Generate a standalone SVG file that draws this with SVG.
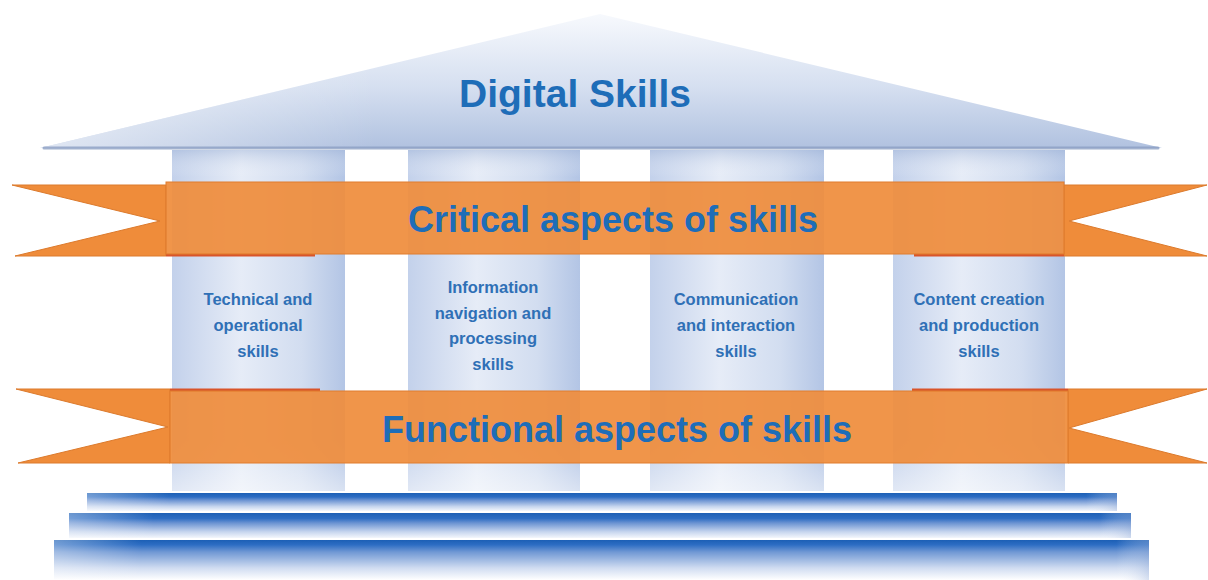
<svg xmlns="http://www.w3.org/2000/svg" width="1208" height="580" viewBox="0 0 1208 580">
  <defs>
    <linearGradient id="roofGrad" x1="0" y1="0" x2="0" y2="1">
      <stop offset="0" stop-color="#f7f9fd"/>
      <stop offset="0.55" stop-color="#d5dff0"/>
      <stop offset="1" stop-color="#b1c2e0"/>
    </linearGradient>
    <linearGradient id="roofFade" x1="0" y1="0" x2="1" y2="0">
      <stop offset="0" stop-color="#ffffff" stop-opacity="0.6"/>
      <stop offset="0.3" stop-color="#ffffff" stop-opacity="0"/>
      <stop offset="1" stop-color="#ffffff" stop-opacity="0"/>
    </linearGradient>
    <linearGradient id="colGrad" x1="0" y1="0" x2="1" y2="0">
      <stop offset="0" stop-color="#c3d1eb"/>
      <stop offset="0.4" stop-color="#e6ecf7"/>
      <stop offset="0.75" stop-color="#d2ddf0"/>
      <stop offset="1" stop-color="#b3c5e5"/>
    </linearGradient>
    <linearGradient id="colFade" x1="0" y1="0" x2="0" y2="1">
      <stop offset="0" stop-color="#9fb3d6" stop-opacity="0.45"/>
      <stop offset="0.08" stop-color="#ffffff" stop-opacity="0"/>
      <stop offset="0.85" stop-color="#ffffff" stop-opacity="0"/>
      <stop offset="1" stop-color="#ffffff" stop-opacity="0.5"/>
    </linearGradient>
    <linearGradient id="stepGrad" x1="0" y1="0" x2="0" y2="1">
      <stop offset="0" stop-color="#1c5fb5"/>
      <stop offset="0.22" stop-color="#2d6dc3"/>
      <stop offset="0.4" stop-color="#6b93d2"/>
      <stop offset="0.75" stop-color="#c6d5ee"/>
      <stop offset="1" stop-color="#f4f7fc"/>
    </linearGradient>
    <linearGradient id="stepGrad3" x1="0" y1="0" x2="0" y2="1">
      <stop offset="0" stop-color="#1c5fb5"/>
      <stop offset="0.12" stop-color="#2d6dc3"/>
      <stop offset="0.3" stop-color="#7098d4"/>
      <stop offset="0.7" stop-color="#d0dcf1"/>
      <stop offset="1" stop-color="#ffffff"/>
    </linearGradient>
    <linearGradient id="stepSide" x1="0" y1="0" x2="1" y2="0">
      <stop offset="0" stop-color="#ffffff" stop-opacity="0.35"/>
      <stop offset="0.08" stop-color="#ffffff" stop-opacity="0"/>
      <stop offset="0.97" stop-color="#ffffff" stop-opacity="0"/>
      <stop offset="1" stop-color="#9db4dc" stop-opacity="0.4"/>
    </linearGradient>
    <style>
      .band { fill: #ef8d3c; fill-opacity: 0.93; stroke: #e07d2e; stroke-width: 1; }
      .tail { fill: #ef8c3a; stroke: #dc7a2c; stroke-width: 1; }
      .redline { stroke: #d9542a; stroke-width: 3; }
      .col { fill: url(#colGrad); }
      .colfade { fill: url(#colFade); }
      .title { font-family: "Liberation Sans", Arial, sans-serif; font-weight: bold; fill: #1e6db8; text-anchor: middle; }
      .label { font-family: "Liberation Sans", Arial, sans-serif; font-weight: bold; font-size: 16.5px; fill: #2f70b6; text-anchor: middle; }
    </style>
  </defs>

  <rect width="1208" height="580" fill="#ffffff"/>

  <!-- Roof -->
  <g id="roof">
    <polygon points="40,148 600,14 1162,148" fill="url(#roofGrad)"/>
    <polygon points="40,148 600,14 1162,148" fill="url(#roofFade)"/>
    <line x1="44" y1="148" x2="1158" y2="148" stroke="#8c9fc4" stroke-width="3" stroke-linecap="round" opacity="0.8"/>
    <text class="title" x="575" y="107" font-size="39">Digital Skills</text>
  </g>

  <!-- Columns -->
  <g id="column-technical">
    <rect class="col" x="172" y="150" width="173" height="341"/>
    <rect class="colfade" x="172" y="150" width="173" height="341"/>
    <text class="label" x="258" y="305">Technical and</text>
    <text class="label" x="258" y="331">operational</text>
    <text class="label" x="258" y="357">skills</text>
  </g>
  <g id="column-information">
    <rect class="col" x="408" y="150" width="172" height="341"/>
    <rect class="colfade" x="408" y="150" width="172" height="341"/>
    <text class="label" x="493" y="293">Information</text>
    <text class="label" x="493" y="319">navigation and</text>
    <text class="label" x="493" y="344">processing</text>
    <text class="label" x="493" y="370">skills</text>
  </g>
  <g id="column-communication">
    <rect class="col" x="650" y="150" width="174" height="341"/>
    <rect class="colfade" x="650" y="150" width="174" height="341"/>
    <text class="label" x="736" y="305">Communication</text>
    <text class="label" x="736" y="331">and interaction</text>
    <text class="label" x="736" y="357">skills</text>
  </g>
  <g id="column-content">
    <rect class="col" x="893" y="150" width="172" height="341"/>
    <rect class="colfade" x="893" y="150" width="172" height="341"/>
    <text class="label" x="979" y="305">Content creation</text>
    <text class="label" x="979" y="331">and production</text>
    <text class="label" x="979" y="357">skills</text>
  </g>

  <!-- Critical band -->
  <g id="band-critical">
    <polygon class="tail" points="12,185 166,185 166,256 15,256 160,221"/>
    <polygon class="tail" points="1207,185 1064,185 1064,256 1207,256 1069,221"/>
    <line class="redline" x1="166" y1="255" x2="315" y2="255"/>
    <line class="redline" x1="914" y1="255" x2="1064" y2="255"/>
    <rect class="band" x="166" y="182" width="898" height="72"/>
    <text class="title" x="613" y="232" font-size="36">Critical aspects of skills</text>
  </g>

  <!-- Functional band -->
  <g id="band-functional">
    <polygon class="tail" points="16,389 170,389 170,463 18,463 168,427"/>
    <polygon class="tail" points="1207,389 1068,389 1068,463 1207,463 1069,428"/>
    <line class="redline" x1="170" y1="390" x2="320" y2="390"/>
    <line class="redline" x1="912" y1="390" x2="1068" y2="390"/>
    <rect class="band" x="170" y="391" width="898" height="72"/>
    <text class="title" x="617" y="442" font-size="36">Functional aspects of skills</text>
  </g>

  <!-- Steps -->
  <g id="steps">
    <rect x="87" y="493" width="1030" height="18" fill="url(#stepGrad)"/>
    <rect x="87" y="493" width="1030" height="18" fill="url(#stepSide)"/>
    <rect x="69" y="513" width="1062" height="25" fill="url(#stepGrad)"/>
    <rect x="69" y="513" width="1062" height="25" fill="url(#stepSide)"/>
    <rect x="54" y="540" width="1095" height="40" fill="url(#stepGrad3)"/>
    <rect x="54" y="540" width="1095" height="40" fill="url(#stepSide)"/>
  </g>
</svg>
